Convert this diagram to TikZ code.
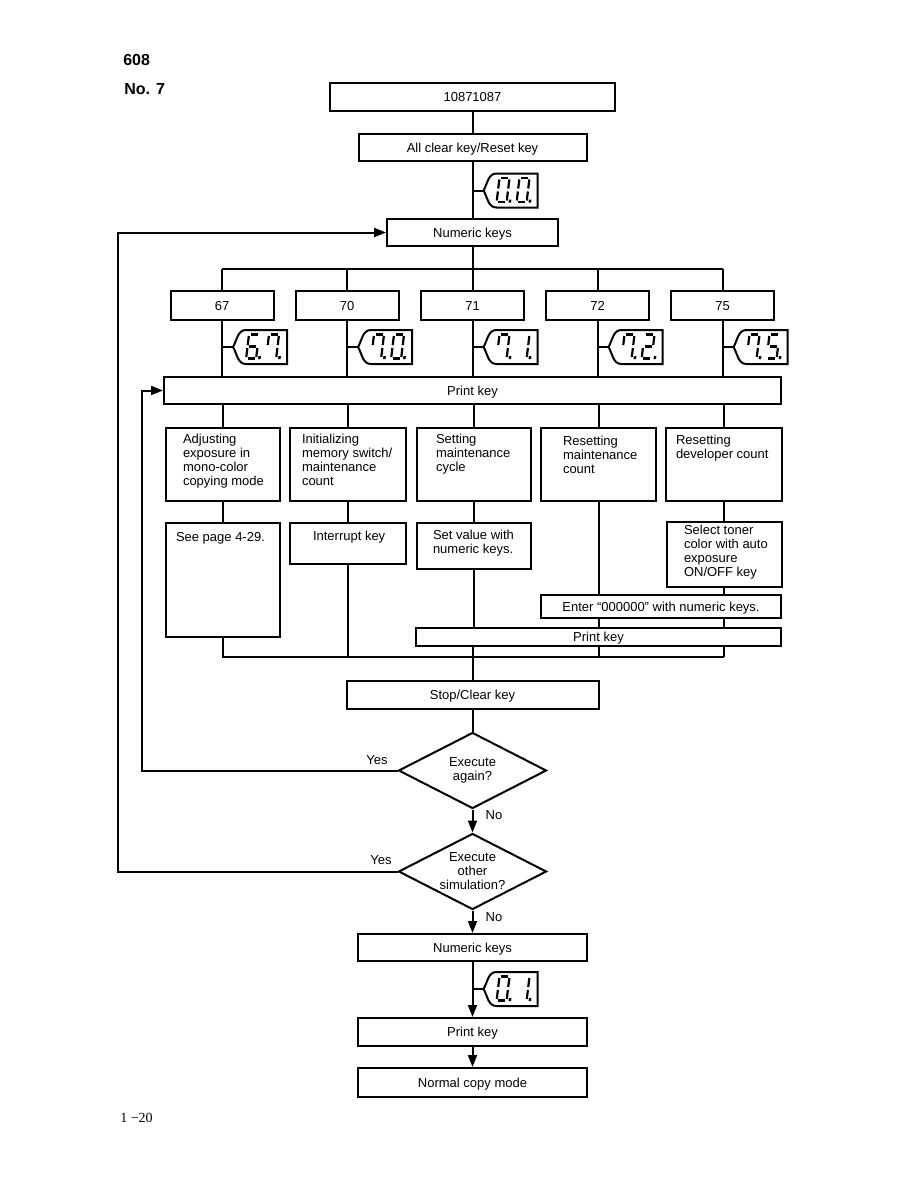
\documentclass[tikz,border=0pt]{standalone}
\usepackage{fontspec}
\setmainfont{Liberation Sans}
\newfontfamily\folioface{Liberation Serif}
\usetikzlibrary{arrows.meta,calc,positioning,shapes.geometric}

\tikzset{
  kbox/.style={draw, minimum height=28, inner sep=0pt, text height=9.5pt, text depth=0pt},
  tbox/.style={draw, anchor=north west, inner xsep=0pt, text height=9.5pt},
  choice/.style={draw, diamond, aspect=2, inner sep=0pt, minimum width=148, minimum height=76, align=center},
  arr/.style={-{Triangle[length=12pt,width=9pt]}},
  seg/.style={line width=2.2pt},
}
% text at the top left of a box: left pad, box width, lines
\newcommand\ftext[3]{\hspace*{#1pt}\parbox[t]{\dimexpr#2pt-#1pt\relax}{\raggedright #3}}
% seven-segment display: segments A..G and the decimal point
\newcommand\lcdA{\draw[seg] (1.5,0) -- (8.5,0);}
\newcommand\lcdB{\draw[seg] (10,1.5) -- (10,10.5);}
\newcommand\lcdC{\draw[seg] (10,13.5) -- (10,22.5);}
\newcommand\lcdD{\draw[seg] (1.5,24) -- (8.5,24);}
\newcommand\lcdE{\draw[seg] (0,13.5) -- (0,22.5);}
\newcommand\lcdF{\draw[seg] (0,1.5) -- (0,10.5);}
\newcommand\lcdG{\draw[seg] (1.5,12) -- (8.5,12);}
\newcommand\lcdP{\fill (12,21.5) rectangle (14.5,24.5);}
\newcommand\lcddigit[2]{\begin{scope}[xshift=#1, xslant=0.12]
  \foreach \s in {#2}{\csname lcd\s\endcsname}\lcdP
  \end{scope}}
\newcommand\lcd[4]{%
  \coordinate (#1) at ([xshift=11]#2);
  \draw (#2) -- (#1);
  \draw (#1) to[out=60,in=180] ++(13,-17) -- ++(41,0) -- ++(0,34) -- ++(-41,0) to[out=180,in=-60] (#1) -- cycle;
  \begin{scope}[shift={([xshift=27,yshift=12.5]#2)}]
    \lcddigit{0}{#3}\lcddigit{20}{#4}
  \end{scope}}

\begin{document}
\begin{tikzpicture}[x=1pt, y=-1pt, line width=2pt, font=\fontsize{13}{14}\selectfont]
\useasboundingbox (0,0) rectangle (918,1188);

\node[anchor=west, font=\bfseries\fontsize{16}{18}\selectfont] (pg) at (119,60) {608};
\node[anchor=west, font=\bfseries\fontsize{16}{18}\selectfont] (no7) at (120,89) {No. 7};
\node[anchor=west, font=\folioface\fontsize{14}{16}\selectfont] (folio) at (116,1118) {1 −20};

% entry
\node[kbox, minimum width=285] (code) at (472.5,97) {10871087};
\node[kbox, minimum width=228, minimum height=27] (aclr) at (472.5,147.5) {All clear key/Reset key};
\node[kbox, minimum width=171, minimum height=27] (num) at (472.5,232.5) {Numeric keys};
\draw (code) -- (aclr);
\draw (aclr) -- (num);
\coordinate (t0) at (472.5,190.5);
\lcd{i0}{t0}{A,B,C,D,E,F}{A,B,C,D,E,F}

% simulation numbers
\coordinate (busA) at (472.5,269);
\node[kbox, minimum width=617, minimum height=27] (print) at (472.5,390.5) {Print key};
\foreach \x/\n in {222/67,347/70,472.5/71,597.5/72,722.5/75}{
  \node[kbox, minimum width=103, minimum height=29] (s\n) at (\x,305.5) {\n};
  \draw (s\n |- busA) -- (s\n);
  \draw (s\n) -- (s\n |- print.north);
  \coordinate (t\n) at (s\n |- 0,347);
}
\draw (num) -- (busA);
\draw (s67 |- busA) -- (s75 |- busA);
\lcd{i67}{t67}{A,F,G,E,D,C}{A,B,C,F}
\lcd{i70}{t70}{A,B,C,F}{A,B,C,D,E,F}
\lcd{i71}{t71}{A,B,C,F}{B,C}
\lcd{i72}{t72}{A,B,C,F}{A,B,G,E,D}
\lcd{i75}{t75}{A,B,C,F}{A,F,G,C,D}

% what each simulation does
\node[tbox, inner ysep=5.5, text depth=52.5] (fa) at (165,427) {\ftext{17}{114}{Adjusting\\exposure in\\mono-color\\copying mode}};
\node[tbox, inner ysep=5.5, text depth=52.5] (fb) at (289,427) {\ftext{12}{116}{Initializing\\memory switch/\\maintenance\\count}};
\node[tbox, inner ysep=5.5, text depth=52.5] (fc) at (416,427) {\ftext{19}{114}{Setting\\maintenance\\cycle}};
\node[tbox, inner ysep=7.5, text depth=48.5] (fd) at (540,427) {\ftext{22}{115}{Resetting\\maintenance\\count}};
\node[tbox, inner ysep=6.5, text depth=50.5] (fe) at (665,427) {\ftext{10}{116}{Resetting\\developer count}};
\foreach \c in {fa,fb,fc,fd,fe}
  \draw (print.south -| \c) -- (\c);

\node[tbox, inner ysep=8.5, text depth=87.5] (see) at (165,522) {\ftext{10}{114}{See page 4-29.}};
\node[tbox, inner ysep=7.5, text depth=16.5] (intr) at (289,522) {\ftext{23}{116}{Interrupt key}};
\node[tbox, inner ysep=6.5, text depth=23.5] (setv) at (416,522) {\ftext{16}{114}{Set value with\\numeric keys.}};
\node[tbox, inner ysep=2.5, text depth=50.5] (sel) at (666,521) {\ftext{17}{115}{Select toner\\color with auto\\exposure\\ON/OFF key}};
\node[kbox, minimum width=240, minimum height=23] (enter) at (661,606.5) {Enter “000000” with numeric keys.};
\node[kbox, minimum width=365, minimum height=18] (print2) at (598.5,637) {Print key};
\draw (fa) -- (see);
\draw (fb) -- (intr);
\draw (fc) -- (setv);
\draw (fe.south) -- (fe.south |- sel.north);
\draw (fd.south) -- (fd.south |- enter.north);
\draw (sel.south -| fe) -- (enter.north -| fe);
\foreach \c in {fd,fe}
  \draw (enter.south -| \c) -- (print2.north -| \c);
\draw (setv) -- (setv |- print2.north);

% back together
\coordinate (busB) at (472.5,657);
\node[kbox, minimum width=252] (stop) at (472.5,695) {Stop/Clear key};
\draw (see) |- (fe |- busB);
\draw (intr) -- (intr |- busB);
\foreach \c in {fd,fe}
  \draw (print2.south -| \c) -- (\c |- busB);
\draw (print2.south -| busB) -- (stop);

\node[choice] (d1) at (472.5,770.5) {Execute\\again?};
\node[choice] (d2) at (472.5,871.5) {Execute\\other\\simulation?};
\draw (stop) -- (d1);
\draw[arr] (d1) -- (d2);
\node (no1) at (494,815) {No};
\node (yes1) at (377,760) {Yes};
\draw[arr] (d1.west) -| ([xshift=-21]print.west) -- (print.west);
\node (yes2) at (381,860) {Yes};
\draw[arr] (d2.west) -| ([xshift=-268]num.west) -- (num.west);

% leaving
\node[kbox, minimum width=229, minimum height=27] (num2) at (472.5,947.5) {Numeric keys};
\node[kbox, minimum width=229] (print3) at (472.5,1032) {Print key};
\node[kbox, minimum width=229, minimum height=29] (normal) at (472.5,1082.5) {Normal copy mode};
\draw[arr] (d2) -- (num2);
\node (no2) at (494,917) {No};
\draw[arr] (num2) -- (print3);
\coordinate (t1) at (472.5,989);
\lcd{i1}{t1}{A,B,C,D,E,F}{B,C}
\draw[arr] (print3) -- (normal);
\end{tikzpicture}
\end{document}
